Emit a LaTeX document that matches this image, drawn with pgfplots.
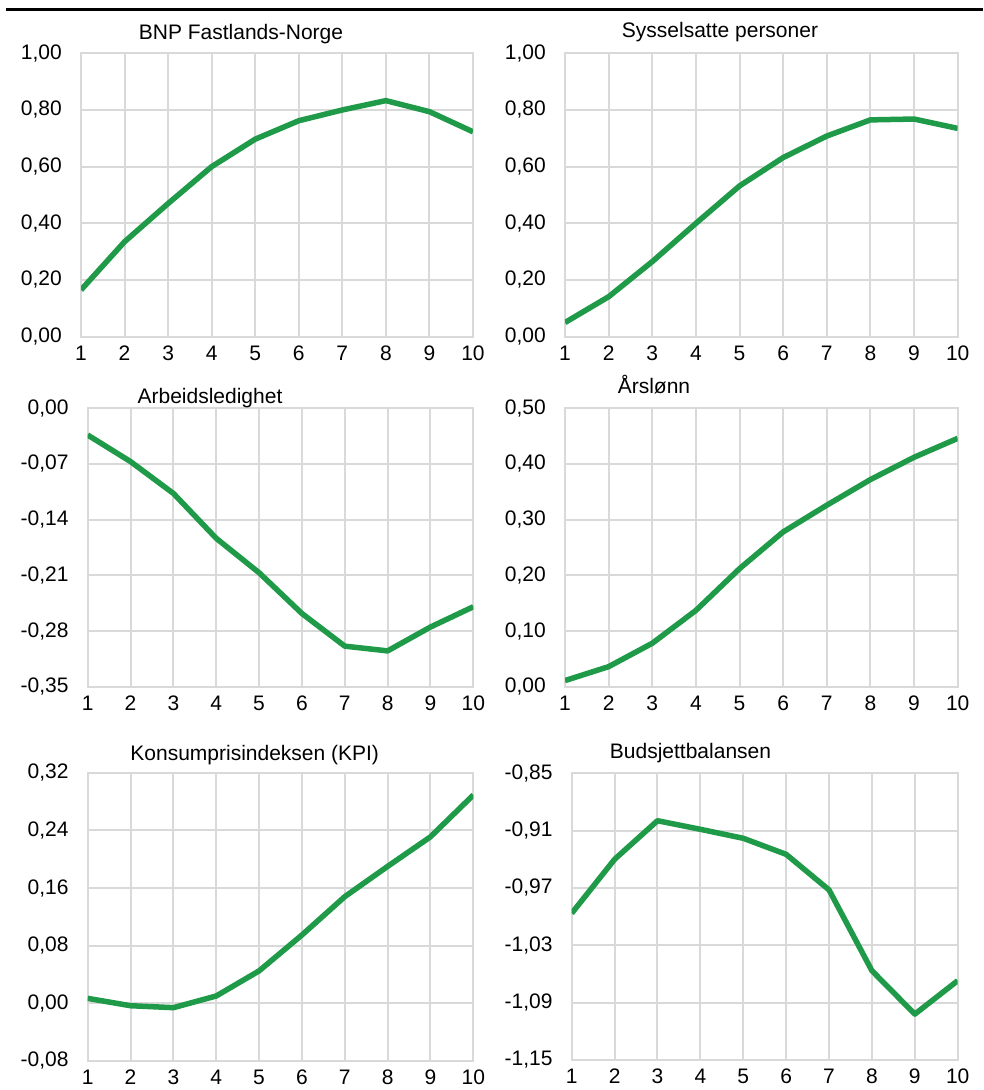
\documentclass[border=0pt]{standalone}
\usepackage{pgfplots}
\pgfplotsset{compat=1.18}
\usepackage{fontspec}
\setmainfont{Liberation Sans}
\definecolor{gridgray}{HTML}{D9D9D9}
\definecolor{linegreen}{HTML}{1F9A48}
\newcommand{\fs}{\fontsize{21}{24}\selectfont}
\pgfplotsset{
  panel/.style={
    scale only axis,
    anchor=south west,
    xmin=1, xmax=10,
    xtick={1,2,3,4,5,6,7,8,9,10},
    grid=major,
    major grid style={draw=gridgray, line width=2pt},
    axis line style={draw=gridgray, line width=2pt},
    major tick length=0pt,
    tick style={draw=none},
    ticklabel style={font=\fs},
    yticklabel style={anchor=east, inner sep=0pt, xshift=-19pt},
    xticklabel style={anchor=north, inner sep=0pt, yshift=-9pt},
    /pgf/number format/assume math mode=true,
    yticklabel={\pgfmathprintnumber[fixed, fixed zerofill, precision=2, use comma, assume math mode=true]{\tick}},
    xticklabel={\pgfmathprintnumber[assume math mode=true]{\tick}},
    scaled y ticks=false,
  },
  gline/.style={draw=linegreen, line width=5.5pt, line join=round, mark=none},
}
\begin{document}
\begin{tikzpicture}[x=1pt,y=1pt]
\useasboundingbox (0pt,0pt) rectangle (983pt,1090pt);
\fill[white] (0pt,0pt) rectangle (983pt,1090pt);
\draw[black, line width=3pt] (6pt,1080.5pt) -- (983pt,1080.5pt);

% Panel 1
\begin{axis}[panel, at={(81pt,753.3pt)}, width=392pt, height=283.4pt,
  ymin=0, ymax=1, ytick={0,0.2,0.4,0.6,0.8,1.0}]
\addplot[gline] coordinates {(1,0.165) (2,0.335) (3,0.47) (4,0.60) (5,0.697) (6,0.762) (7,0.80) (8,0.833) (9,0.794) (10,0.723)};
\end{axis}
\node[anchor=base, font=\fs] at (241pt,1050.5pt) {BNP Fastlands-Norge};

% Panel 2
\begin{axis}[panel, at={(565pt,753.3pt)}, width=392.7pt, height=283.4pt,
  ymin=0, ymax=1, ytick={0,0.2,0.4,0.6,0.8,1.0}]
\addplot[gline] coordinates {(1,0.05) (2,0.141) (3,0.265) (4,0.40) (5,0.532) (6,0.632) (7,0.708) (8,0.765) (9,0.768) (10,0.735)};
\end{axis}
\node[anchor=base, font=\fs] at (720pt,1052pt) {Sysselsatte personer};

% Panel 3
\begin{axis}[panel, at={(87.7pt,403.3pt)}, width=385.6pt, height=278.4pt,
  ymin=-0.35, ymax=0, ytick={-0.35,-0.28,-0.21,-0.14,-0.07,0}]
\addplot[gline] coordinates {(1,-0.0336) (2,-0.067) (3,-0.107) (4,-0.1635) (5,-0.2067) (6,-0.258) (7,-0.299) (8,-0.305) (9,-0.275) (10,-0.2495)};
\end{axis}
\node[anchor=base, font=\fs] at (210pt,686pt) {Arbeidsledighet};

% Panel 4
\begin{axis}[panel, at={(565pt,403.3pt)}, width=392.7pt, height=278.4pt,
  ymin=0, ymax=0.5, ytick={0,0.1,0.2,0.3,0.4,0.5}]
\addplot[gline] coordinates {(1,0.011) (2,0.036) (3,0.078) (4,0.137) (5,0.212) (6,0.278) (7,0.326) (8,0.372) (9,0.412) (10,0.446)};
\end{axis}
\node[anchor=base, font=\fs] at (654pt,696pt) {Årslønn};

% Panel 5
\begin{axis}[panel, at={(87.7pt,29pt)}, width=385.6pt, height=288.3pt,
  ymin=-0.08, ymax=0.32, ytick={-0.08,0,0.08,0.16,0.24,0.32}]
\addplot[gline] coordinates {(1,0.0069) (2,-0.0033) (3,-0.006) (4,0.0102) (5,0.045) (6,0.0948) (7,0.148) (8,0.19) (9,0.231) (10,0.289)};
\end{axis}
\node[anchor=base, font=\fs] at (254.7pt,329.3pt) {Konsumprisindeksen (KPI)};

% Panel 6
\begin{axis}[panel, at={(571.7pt,30pt)}, width=386pt, height=286.7pt,
  ymin=-1.15, ymax=-0.85, ytick={-1.15,-1.09,-1.03,-0.97,-0.91,-0.85}]
\addplot[gline] coordinates {(1,-0.9965) (2,-0.94) (3,-0.8996) (4,-0.9086) (5,-0.918) (6,-0.9348) (7,-0.972) (8,-1.0566) (9,-1.102) (10,-1.067)};
\end{axis}
\node[anchor=base, font=\fs] at (690.5pt,331pt) {Budsjettbalansen};
\end{tikzpicture}
\end{document}
